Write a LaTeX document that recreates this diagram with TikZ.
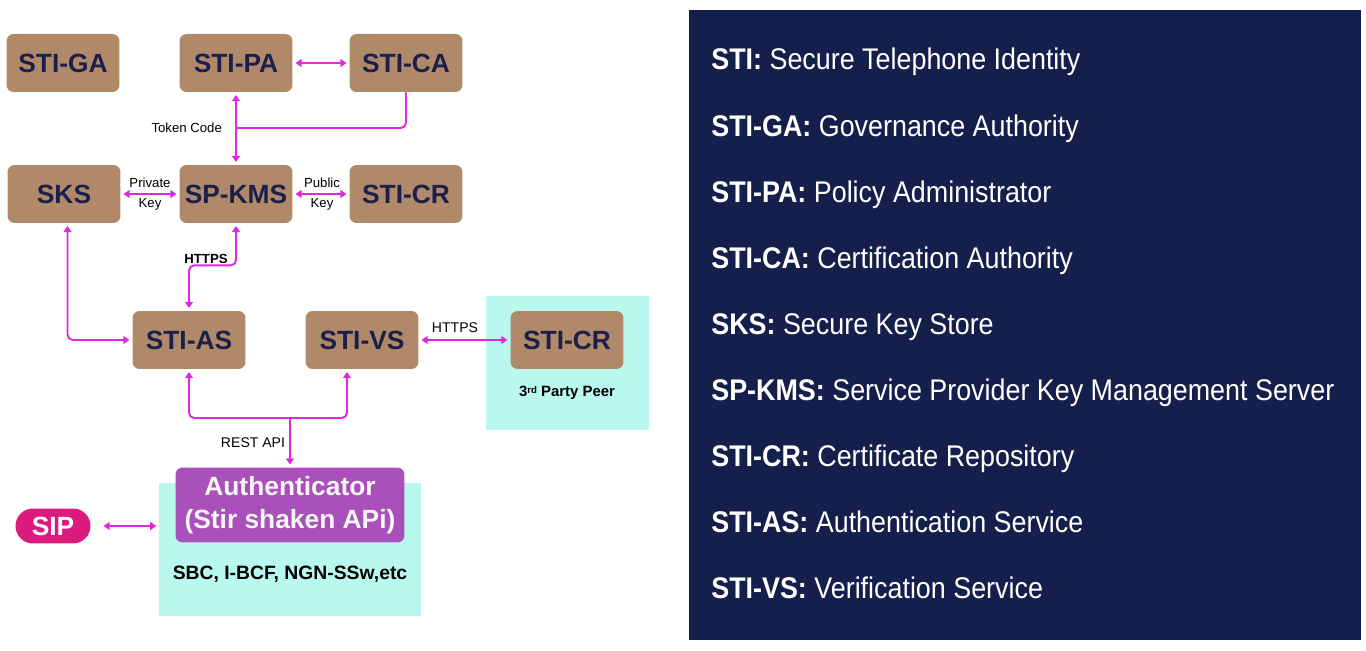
\documentclass[tikz,border=0pt]{standalone}
\usepackage{fontspec}
\setmainfont{Liberation Sans}
\newfontfamily\legendfont[FakeStretch=0.9]{Liberation Sans}
\usepackage{tikz}
\usetikzlibrary{arrows.meta,calc}
\definecolor{boxbrown}{HTML}{B08968}
\definecolor{boxtext}{HTML}{1B1F4A}
\definecolor{panelnavy}{HTML}{151F4B}
\definecolor{linkpink}{HTML}{E028E0}
\definecolor{peercyan}{HTML}{B9F8EE}
\definecolor{authpurple}{HTML}{AA50BA}
\definecolor{sippink}{HTML}{DC1A7E}

\tikzset{
  entity/.style={fill=boxbrown, rounded corners=4pt, minimum width=2.26cm, minimum height=1.16cm,
    font=\fontsize{15}{18}\selectfont\bfseries, text=boxtext, inner sep=0pt},
  link/.style={draw=linkpink, line width=1.1pt, rounded corners=3pt},
  twoway/.style={link, {Triangle[width=4.5pt,length=3.5pt]}-{Triangle[width=4.5pt,length=3.5pt]},
    shorten <=1.5pt, shorten >=1.5pt},
  oneway/.style={link, -{Triangle[width=4.5pt,length=3.5pt]}, shorten >=1.5pt},
  tag/.style={font=\fontsize{7.5}{11}\selectfont, align=center, inner sep=1pt},
  legend/.style={font=\legendfont\fontsize{17}{20}\selectfont, text=white, inner sep=0pt},
}

\begin{document}
\begin{tikzpicture}[x=0.02cm, y=-0.02cm]

\useasboundingbox (0,0) rectangle (1366,651);

% Backgrounds
\fill[peercyan] (486,296) rectangle (649,430);
\fill[peercyan] (159,483) rectangle (421,616);

% Top row
\node[entity] (ga) at (63,63) {STI-GA};
\node[entity] (pa) at (236,63) {STI-PA};
\node[entity] (ca) at (406,63) {STI-CA};

% Middle row
\node[entity] (sks) at (64,194) {SKS};
\node[entity] (kms) at (236,194) {SP-KMS};
\node[entity] (cr) at (406,194) {STI-CR};

% Services
\node[entity] (as) at (189,340) {STI-AS};
\node[entity] (vs) at (362,340) {STI-VS};
\node[entity] (peer) at (567,340) {STI-CR};
\node[font=\fontsize{8.5}{10}\selectfont\bfseries] (peerlab) at (567,393)
  {3{\fontsize{5.5}{6}\selectfont\raisebox{0.6ex}{rd}} Party Peer};

% Authenticator and SIP
\node[fill=authpurple, rounded corners=4pt, minimum width=4.58cm, minimum height=1.5cm, inner sep=0pt,
  text=white!94!gray, align=center, font=\fontsize{15}{18.5}\selectfont\bfseries] (auth) at (290,505)
  {Authenticator\\(Stir shaken APi)};
\node[font=\fontsize{11}{13}\selectfont\bfseries] (sbc) at (290,574) {SBC, I-BCF, NGN-SSw,etc};
\node[fill=sippink, rounded corners=0.35cm, minimum width=1.5cm, minimum height=0.7cm, inner sep=0pt,
  text=white, font=\fontsize{15}{18}\selectfont\bfseries] (sip) at (53,526) {SIP};
\coordinate (sbcedge) at (159,526);

% Links
\draw[twoway] (pa) -- (ca);
\draw[twoway] (pa.south) -- (kms.north);
\coordinate (tok) at (236,128);
\draw[link] (ca.south) |- (tok);
\node[tag, anchor=east] at (224,128) {Token Code};

\draw[twoway] (sks) -- (kms);
\node[tag] at (150,194) {Private\\Key};
\draw[twoway] (kms) -- (cr);
\node[tag] at (322,194) {Public\\Key};

\draw[twoway] (kms.south) -- ++(0,42) -| (as.north);
\node[tag, font=\fontsize{7.5}{9}\selectfont\bfseries] at (206,259) {HTTPS};
\draw[twoway] ([xshift=2pt]sks.south) |- (as.west);

\draw[twoway] (vs.east) -- (peer.west);
\node[tag, font=\fontsize{8}{10}\selectfont] at (455,328) {HTTPS};

\coordinate (rest) at (290,418);
\draw[twoway] (as.south) |- (rest) -| ($(vs.south)+(-15,0)$);
\draw[oneway] (rest) -- (auth.north);
\node[tag, font=\fontsize{8}{10}\selectfont] at (253,443) {REST API};

\draw[twoway] ($(sip.east)+(10,0)$) -- (sbcedge);

% Legend panel
\fill[panelnavy] (689,10) rectangle (1361,640);
\foreach \abbr/\desc [count=\i from 0] in {STI/Secure Telephone Identity, STI-GA/Governance Authority,
    STI-PA/Policy Administrator, STI-CA/Certification Authority, SKS/Secure Key Store,
    SP-KMS/Service Provider Key Management Server, STI-CR/Certificate Repository,
    STI-AS/Authentication Service, STI-VS/Verification Service} {
  \node[legend, anchor=base west] (leg\i) at (711,70+66.1*\i) {\textbf{\abbr:} \desc};
}

\end{tikzpicture}
\end{document}
